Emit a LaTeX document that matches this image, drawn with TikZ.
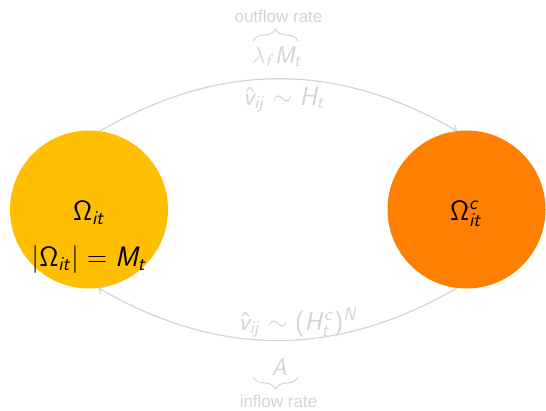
\RequirePackage{fix-cm}
\documentclass[tikz,border=0pt]{standalone}
\usepackage{amsmath}
\usepackage[no-math]{fontspec}
\setmainfont{Liberation Sans}
\setsansfont{Liberation Sans}
\DeclareMathVersion{sansv}
\SetSymbolFont{operators}{sansv}{OT1}{cmss}{m}{n}
\SetSymbolFont{letters}{sansv}{OT1}{cmss}{m}{sl}
\DeclareSymbolFont{cmletters}{OML}{cmm}{m}{it}
\DeclareMathSymbol{\lam}{\mathord}{cmletters}{"15}
\usetikzlibrary{arrows.meta,decorations.pathreplacing}
\definecolor{amber}{RGB}{255,191,0}
\definecolor{orng}{RGB}{255,128,0}
\definecolor{lgray}{RGB}{212,212,212}
\tikzset{
  blob/.style={circle, inner sep=0pt, minimum size=158pt},
  flow/.style={draw=lgray, line width=1.2pt, -{Straight Barb[length=4pt,width=9pt]}},
  lbl/.style={text=lgray, inner sep=0pt, anchor=base, font=\fontsize{24}{28}\selectfont\mathversion{sansv}},
  vlbl/.style={lbl, font=\fontsize{26}{30}\selectfont\mathversion{sansv}},
  captxt/.style={text=lgray, inner sep=0pt, anchor=base, font=\fontsize{17}{20}\selectfont},
  intxt/.style={text=black, inner sep=0pt, anchor=base, font=\fontsize{28}{32}\selectfont\mathversion{sansv}},
  brc/.style={draw=lgray, line width=1pt, decorate, decoration={brace, amplitude=12pt}}
}
\begin{document}
\begin{tikzpicture}[x=1pt,y=-1pt]
\useasboundingbox (0,0) rectangle (546,410);
\node[blob, fill=amber] (L) at (89,209.5) {};
\node[blob, fill=orng] (R) at (466.5,209.5) {};
\node[intxt] (Lt1) at (89,220) {$\Omega_{it}$};
\node[intxt] (Lt2) at (89,266) {$|\Omega_{it}| = M_t$};
\node[intxt] (Rt) at (466,220) {$\Omega_{it}^{c}$};
\draw[flow] (L.82) to[bend left=30] (R.97);
\draw[flow] (R.263) to[bend left=30] (L.277);
\node[captxt] (out) at (278.5,22) {outflow rate};
\node[lbl] (lam) at (277,63) {$\lam_f M_t$};
\node[vlbl] (top) at (284,105) {$\hat{v}_{ij} \sim H_t$};
\node[vlbl] (bot) at (298,330) {$\hat{v}_{ij} \sim (H_t^c)^N$};
\node[lbl] (A) at (279,375) {$A$};
\node[captxt] (in) at (278.5,407) {inflow rate};
\coordinate (b1) at (253,41);
\coordinate (b2) at (298,41);
\coordinate (b3) at (298,377);
\coordinate (b4) at (253,377);
\draw[brc] (b1) -- (b2);
\draw[brc] (b3) -- (b4);
\end{tikzpicture}
\end{document}
